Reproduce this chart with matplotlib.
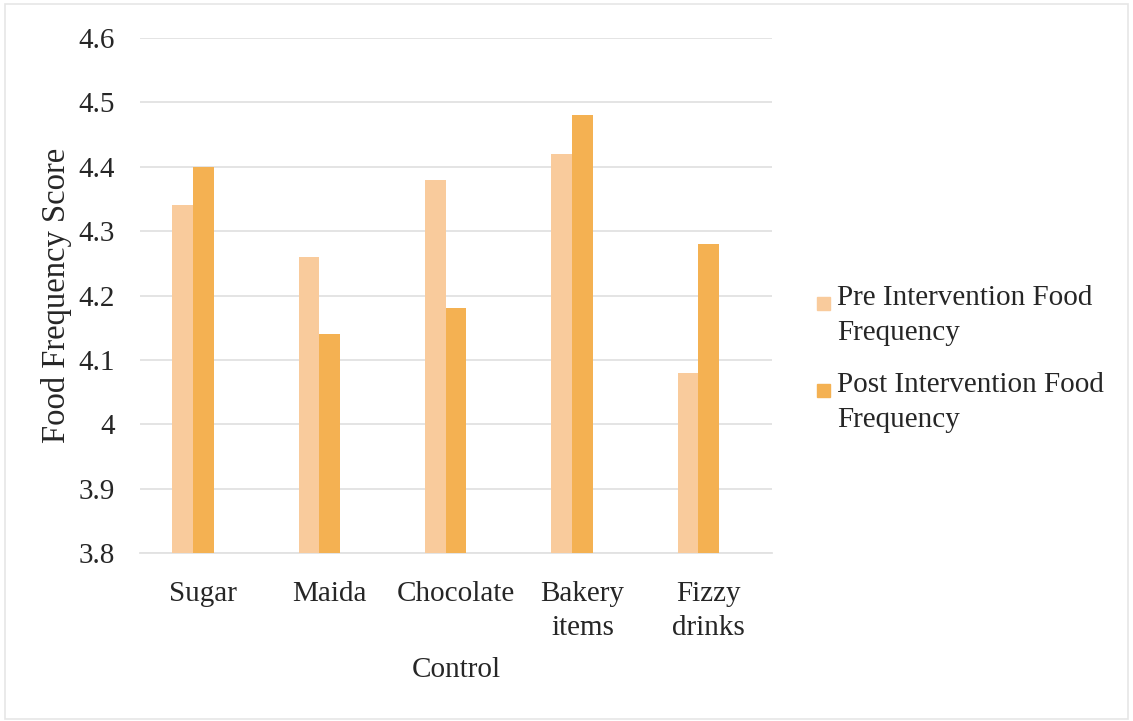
import matplotlib
matplotlib.use("Agg")
import matplotlib.pyplot as plt
from matplotlib.patches import Rectangle

categories = ["Sugar", "Maida", "Chocolate", "Bakery\nitems", "Fizzy\ndrinks"]
pre_values = [4.34, 4.26, 4.38, 4.42, 4.08]
post_values = [4.40, 4.14, 4.18, 4.48, 4.28]
series_labels = ["Pre Intervention Food\nFrequency", "Post Intervention Food\nFrequency"]
y_ticks = [3.8, 3.9, 4.0, 4.1, 4.2, 4.3, 4.4, 4.5, 4.6]
y_tick_labels = ["3.8", "3.9", "4", "4.1", "4.2", "4.3", "4.4", "4.5", "4.6"]

pre_color = "#F9CB9C"
post_color = "#F4B152"
text_color = "#262626"
grid_color = "#E2E2E2"

plt.rcParams["font.family"] = ["Liberation Serif", "DejaVu Serif"]

W, H = 1133, 721
fig = plt.figure(figsize=(W / 100, H / 100), dpi=100)
fig.patch.set_facecolor("white")

left, right, top, bottom = 140, 772, 38, 553
ax = fig.add_axes([left / W, 1 - bottom / H, (right - left) / W, (bottom - top) / H])

width = 0.163
x = list(range(len(categories)))
ax.bar([i - width for i in x], pre_values, width=width, color=pre_color, zorder=3)
ax.bar(x, post_values, width=width, color=post_color, zorder=3)

ax.set_xlim(-0.5, len(categories) - 0.5)
ax.set_ylim(3.8, 4.6)
ax.set_yticks(y_ticks)
ax.set_yticklabels(y_tick_labels)
ax.set_xticks(x)
ax.set_xticklabels(categories, linespacing=1.4)

ax.yaxis.grid(True, color=grid_color, linewidth=1.3, zorder=0)
ax.set_axisbelow(True)
for side in ("top", "right", "left"):
    ax.spines[side].set_visible(False)
ax.spines["bottom"].set_color(grid_color)
ax.spines["bottom"].set_linewidth(1.3)

ax.tick_params(axis="both", length=0, labelsize=21, colors=text_color)
ax.tick_params(axis="y", pad=18)
ax.tick_params(axis="x", pad=20)

ax.set_xlabel("Control", fontsize=21, color=text_color, labelpad=12)
ax.set_ylabel("Food Frequency Score", fontsize=23.5, color=text_color, labelpad=5)

# legend drawn as swatches and text to the right of the plot
legend_rows = [303, 390]
for label, color, ypx in zip(series_labels, [pre_color, post_color], legend_rows):
    fig.patches.append(Rectangle((817 / W, 1 - (ypx + 7) / H), 13 / W, 13 / H,
                                 transform=fig.transFigure, color=color))
    fig.text(837 / W, 1 - (ypx - 18) / H, label, fontsize=21, color=text_color,
             va="top", ha="left", linespacing=1.45)

# thin frame around the chart area
fig.patches.append(Rectangle((5 / W, 2 / H), (W - 10) / W, (H - 6) / H,
                             transform=fig.transFigure, fill=False,
                             edgecolor="#E6E6E6", linewidth=1.2))

fig.savefig("out.png", dpi=100, facecolor="white")
